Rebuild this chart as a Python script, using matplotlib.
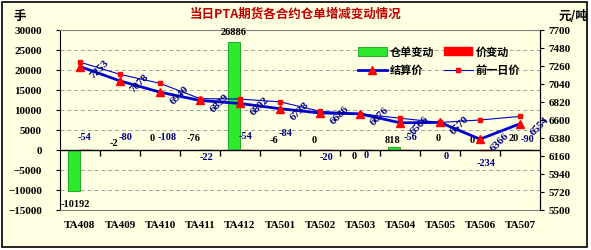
import numpy as np
import matplotlib.pyplot as plt
from matplotlib.patches import Rectangle

plt.rcParams['font.family'] = ['Noto Sans CJK SC', 'DejaVu Sans']

categories = ['TA408', 'TA409', 'TA410', 'TA411', 'TA412', 'TA501',
              'TA502', 'TA503', 'TA504', 'TA505', 'TA506', 'TA507']
wh_change = [-10192, -2, 0, -76, 26886, -6, 0, 0, 818, 0, 0, 20]
price_change = [-54, -80, -108, -22, -54, -84, -20, 0, -56, 0, -234, -90]
settle = [7253, 7078, 6940, 6839, 6802, 6738, 6686, 6676, 6566, 6570, 6366, 6554]
prev_price = [7307, 7158, 7048, 6861, 6856, 6822, 6706, 6676, 6622, 6570, 6600, 6644]

# label offsets (points) -- style only
wh_lab_dx = [1, 0, -1, 0, 0, 0, 0, 0, -1, 3, -1, 0]
wh_lab_dy = [-10, 5, 8.5, 8.5, 7, 7, 7, -5, 4.5, 8.5, 7, 8]
pc_lab_dx = [-1, 0, 1, 0, 0, 0, 0, 0, 3, 0, 0, 1]
pc_lab_dy = [9, 9, 9, -5, 10, 12, -5, -4, 9, -5, -9, 8]

BG = '#FFFFE1'
NAVY = '#000080'
LBL = dict(family='Liberation Serif', fontweight='bold', fontsize=7.5)

fig = plt.figure(figsize=(5.91, 2.5), dpi=100, facecolor='white')
fig.patches.append(Rectangle((2 / 591, 3 / 250), 585 / 591, 245 / 250,
                             transform=fig.transFigure, facecolor=BG,
                             edgecolor='black', linewidth=1.2, zorder=-10))

ax = fig.add_axes([60 / 591, 40 / 250, 480 / 591, 180 / 250])
ax.set_facecolor(BG)
x = np.arange(len(categories))
w = 0.3

b1 = ax.bar(x - w / 2, wh_change, w, color='#2EEA2E', edgecolor='#12A012',
            linewidth=0.6, label='仓单变动', zorder=2)
b2 = ax.bar(x + w / 2, price_change, w, color='#FF0000', edgecolor='#FF0000',
            linewidth=0.3, label='价变动', zorder=2)

ax.set_xlim(-0.5, len(categories) - 0.5)
ax.set_ylim(-15000, 30000)
ax.set_yticks(np.arange(-15000, 30001, 5000))
ax.yaxis.grid(True, color='#A0A0A0', linestyle=(0, (4, 3)), linewidth=0.7)
ax.set_axisbelow(True)
ax.axhline(0, color='black', linewidth=1.0, zorder=3)
bounds = np.arange(0.5, len(categories) - 0.5, 1)
ax.plot(bounds, np.zeros(len(bounds)), ls='none', marker=3, ms=4,
        color='black', zorder=3)

ax.set_xticks(x)
ax.set_xticklabels(categories)
ax.tick_params(axis='x', length=0, pad=8)
ax.tick_params(axis='y', length=3, pad=10, direction='out')
for lab in ax.get_xticklabels() + ax.get_yticklabels():
    lab.set_family('Liberation Serif')
    lab.set_fontweight('bold')
    lab.set_fontsize(8)

for s in ['top', 'bottom']:
    ax.spines[s].set_color('#808080')
    ax.spines[s].set_linewidth(0.8)
ax.spines['left'].set_color('black')

for i in range(len(categories)):
    ax.annotate(str(wh_change[i]), (x[i] - w / 2, wh_change[i]),
                xytext=(wh_lab_dx[i], wh_lab_dy[i]), textcoords='offset points',
                ha='center', va='center', color='black', zorder=5, **LBL)
    ax.annotate(str(price_change[i]), (x[i] + w / 2, price_change[i]),
                xytext=(pc_lab_dx[i], pc_lab_dy[i]), textcoords='offset points',
                ha='center', va='center', color=NAVY, zorder=5, **LBL)

ax2 = ax.twinx()
ax2.set_ylim(5500, 7700)
ax2.set_yticks(np.arange(5500, 7701, 220))
ax2.tick_params(axis='y', length=3, pad=3)
for lab in ax2.get_yticklabels():
    lab.set_family('Liberation Serif')
    lab.set_fontweight('bold')
    lab.set_fontsize(8)
for s in ['top', 'bottom', 'left']:
    ax2.spines[s].set_visible(False)

l1, = ax2.plot(x, settle, color='#0000CC', linewidth=2, marker='^',
               markersize=5.5, markerfacecolor='#FF0000',
               markeredgecolor='#FF0000', label='结算价', zorder=4)
l2, = ax2.plot(x, prev_price, color='#0000CC', linewidth=0.8, marker='s',
               markersize=2.5, markerfacecolor='#FF0000',
               markeredgecolor='#FF0000', label='前一日价', zorder=4)

for i in range(len(categories)):
    ax2.annotate(str(settle[i]), (x[i], settle[i]), xytext=(14, -2),
                 textcoords='offset points', ha='center', va='center',
                 rotation=45, color=NAVY, zorder=6,
                 family='Liberation Serif', fontweight='bold', fontsize=8)

ax2.legend([b1, l1, b2, l2], ['仓单变动', '结算价', '价变动', '前一日价'],
           ncol=2, loc='upper left', bbox_to_anchor=(0.6, 0.97),
           frameon=False, handlelength=2.6, handleheight=0.8,
           columnspacing=0.8, handletextpad=0.3, labelspacing=0.5,
           prop=dict(family='Noto Sans CJK SC', weight='bold', size=8))

fig.text(0.5, 0.944, '当日PTA期货各合约仓单增减变动情况', ha='center',
         va='center', color='#C00000', fontsize=9, fontweight='bold')
fig.text(13 / 591, 0.935, '手', ha='left', va='center', fontsize=9,
         fontweight='bold')
fig.text(588 / 591, 0.935, '元/吨', ha='right', va='center', fontsize=9,
         fontweight='bold')

fig.savefig('out.png', dpi=100, facecolor='white')
